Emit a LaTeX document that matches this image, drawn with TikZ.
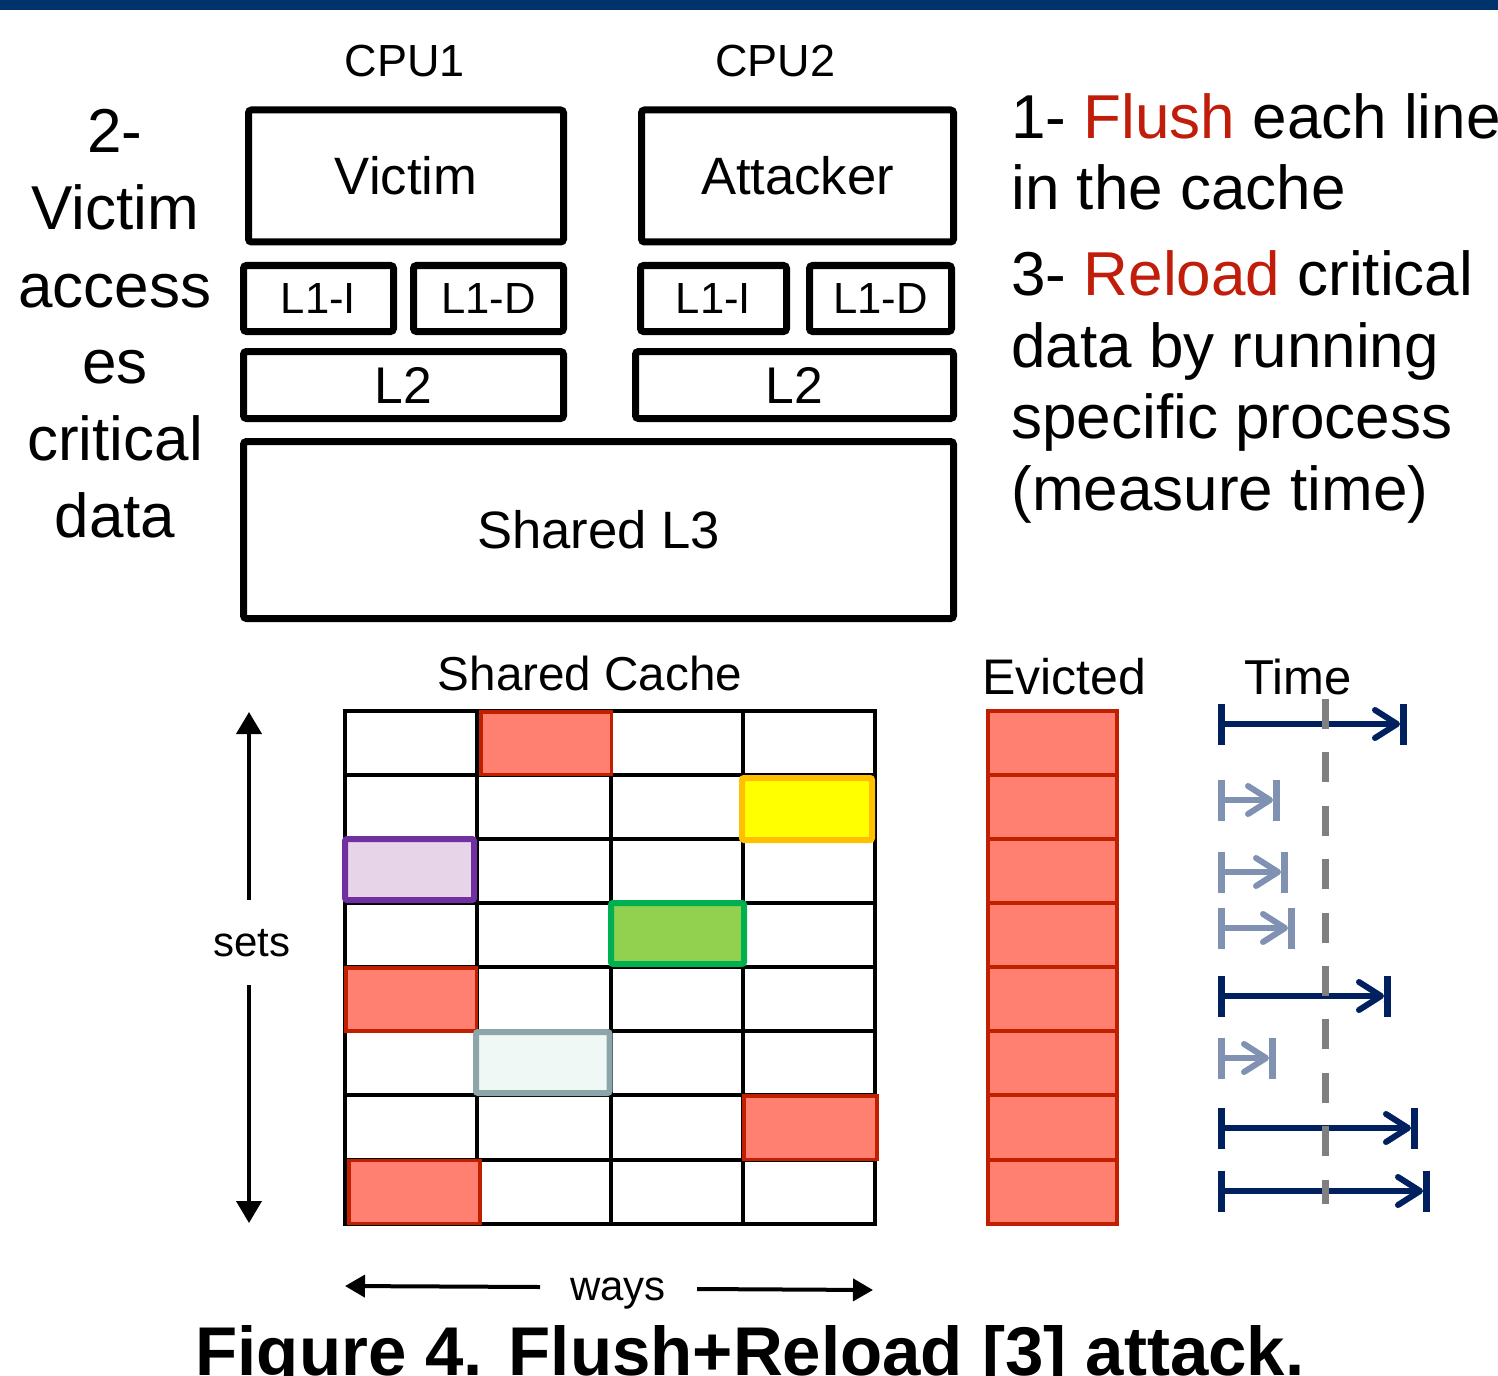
\documentclass[tikz,border=0pt]{standalone}
\usepackage{fontspec}
\setmainfont{Liberation Sans}
\usetikzlibrary{arrows.meta}
\definecolor{topbar}{RGB}{0,51,107}
\definecolor{fred}{RGB}{255,128,112}
\definecolor{bred}{RGB}{192,32,0}
\definecolor{txred}{RGB}{192,30,10}
\definecolor{yfill}{RGB}{255,255,0}
\definecolor{ybord}{RGB}{255,192,0}
\definecolor{pfill}{RGB}{232,212,232}
\definecolor{pbord}{RGB}{112,48,160}
\definecolor{gfill}{RGB}{146,208,80}
\definecolor{gbord}{RGB}{0,176,80}
\definecolor{lfill}{RGB}{240,248,246}
\definecolor{lbord}{RGB}{140,165,168}
\definecolor{navy}{RGB}{0,32,96}
\definecolor{lnavy}{RGB}{128,145,178}
\definecolor{dgray}{RGB}{128,128,128}
\begin{document}
\begin{tikzpicture}[x=0.5pt,y=-0.5pt,
  box/.style={draw, line width=3.5pt, rounded corners=1.5pt, inner sep=0pt},
  fbig/.style={font=\fontsize{31}{37}\selectfont},
  fbox/.style={font=\fontsize{26.3}{31}\selectfont},
  fl1/.style={font=\fontsize{21.8}{26}\selectfont},
  fl2/.style={font=\fontsize{25.8}{31}\selectfont},
  fhead/.style={font=\fontsize{24.5}{29}\selectfont},
  fsmall/.style={font=\fontsize{21}{25}\selectfont},
  lbl/.style={inner sep=0pt, anchor=base},
  rtxt/.style={fbig, inner sep=0pt, anchor=base west},
  gridl/.style={line width=1.7pt, black, line cap=rect},
  redcell/.style={draw=bred, fill=fred, line width=1.6pt},
  ccell/.style={line width=3pt, rounded corners=1pt},
  blk/.style={line width=2pt, -{Triangle[length=11pt,width=12.5pt]}},
  tbar/.style={line width=3.5pt}
]
\useasboundingbox (0,0) rectangle (1498,1375);
\fill[topbar] (0,0) rectangle (1498,10);

% CPU labels
\node[lbl, font=\fontsize{22.5}{27}\selectfont] (cpu1) at (405,77) {CPU1};
\node[lbl, font=\fontsize{22.5}{27}\selectfont] (cpu2) at (775.5,77) {CPU2};

% cache hierarchy boxes
\node[box, fbox, minimum width=157.5pt, minimum height=66pt] (victim) at (406,176) {Victim};
\node[box, fbox, minimum width=156pt, minimum height=66pt] (attacker) at (797.5,176) {Attacker};
\node[box, fl1, minimum width=75pt, minimum height=33pt] (l1ia) at (318.5,298.5) {L1-I};
\node[box, fl1, minimum width=75pt, minimum height=33pt] (l1da) at (488.5,298.5) {L1-D};
\node[box, fl1, minimum width=73pt, minimum height=33pt] (l1ib) at (713.5,298.5) {L1-I};
\node[box, fl1, minimum width=71pt, minimum height=33pt] (l1db) at (880.5,298.5) {L1-D};
\node[box, fl2, minimum width=160pt, minimum height=33.5pt] (l2a) at (403.5,385) {L2};
\node[box, fl2, minimum width=159pt, minimum height=33.5pt] (l2b) at (794.5,385) {L2};
\node[box, fbox, minimum width=355pt, minimum height=88.5pt] (l3) at (598.5,530) {Shared L3};

% left explanation
\node[lbl, fbig] (v1) at (115,153) {2-};
\node[lbl, fbig] (v2) at (115,230) {Victim};
\node[lbl, fbig] (v3) at (115,307) {access};
\node[lbl, fbig] (v4) at (115,383) {es};
\node[lbl, fbig] (v5) at (115,460) {critical};
\node[lbl, fbig] (v6) at (115,537) {data};

% right explanation
\node[rtxt] (r1) at (1011,139) {1- \textcolor{txred}{Flush} each line};
\node[rtxt] (r2) at (1011,210) {in the cache};
\node[rtxt] (r3) at (1011,295) {3- \textcolor{txred}{Reload} critical};
\node[rtxt] (r4) at (1011,367) {data by running};
\node[rtxt] (r5) at (1011,438) {specific process};
\node[rtxt] (r6) at (1011,510) {(measure time)};

% headings
\node[lbl, font=\fontsize{23.8}{28}\selectfont] (shc) at (590,690) {Shared Cache};
\node[lbl, font=\fontsize{25}{30}\selectfont] (evh) at (1064,694) {Evicted};
\node[lbl, fhead] (tmh) at (1298,694) {Time};

% grid
\foreach \x in {345,477,611,743,875} \draw[gridl] (\x,711) -- (\x,1224);
\foreach \y in {711,775,839,903,967,1031,1095,1160,1224} \draw[gridl] (345,\y) -- (875,\y);

% coloured lines
\draw[redcell] (481,712) rectangle (611.5,774.5);
\draw[ccell, draw=ybord, fill=yfill] (742,778) rectangle (872,840);
\draw[ccell, draw=pbord, fill=pfill] (345,839) rectangle (474,900);
\draw[ccell, draw=gbord, fill=gfill] (611,903) rectangle (744,964);
\draw[redcell] (346,968) rectangle (476.5,1031);
\draw[ccell, draw=lbord, fill=lfill] (476,1032) rectangle (609.5,1093);
\draw[redcell] (744,1096) rectangle (877,1159.5);
\draw[redcell] (349,1160.5) rectangle (480,1223.5);

% evicted column
\foreach \a/\b in {711/775,775/839,839/903,903/967,967/1031,1031/1095,1095/1160,1160/1224}
  \draw[redcell] (988,\a) rectangle (1117,\b);

% sets arrow
\node[lbl, fsmall] (sets) at (252,956) {sets};
\coordinate (sTopS) at (249,900);
\coordinate (sTopE) at (249,712);
\coordinate (sBotS) at (249,985);
\coordinate (sBotE) at (249,1223);
\draw[blk] (sTopS) -- (sTopE);
\draw[blk] (sBotS) -- (sBotE);

% ways arrow
\node[lbl, fsmall] (ways) at (618,1300) {ways};
\coordinate (wLS) at (540,1287);
\coordinate (wLE) at (345,1286);
\coordinate (wRS) at (697,1289);
\coordinate (wRE) at (873,1290);
\draw[line width=2pt, -{Triangle[length=10pt,width=11pt]}] (wLS) -- (wLE);
\draw[line width=2pt, -{Triangle[length=10pt,width=11pt]}] (wRS) -- (wRE);

% timeline
\foreach \n/\y/\xe/\c in {1/724/1403/navy, 2/800/1276/lnavy, 3/872/1284/lnavy, 4/928/1291/lnavy, 5/996/1387/navy, 6/1058/1272/lnavy, 7/1128/1414/navy, 8/1191/1426/navy} {
  \coordinate (ts\n) at (1221,\y);
  \coordinate (te\n) at (\xe,\y);
  \draw[\c, line width=3pt, -{Straight Barb[length=11pt,width=14pt,round]}] (ts\n) -- ([xshift=-1.5pt]te\n);
  \draw[\c, tbar] (ts\n) ++(0,-20.5) -- ++(0,41);
  \draw[\c, tbar] (te\n) ++(0,-20.5) -- ++(0,41);
}
\coordinate (dTop) at (1325,699);
\coordinate (dBot) at (1325,1204);
\draw[dgray, line width=3.5pt, dash pattern=on 15pt off 11.7pt] (dTop) -- (dBot);

% caption
\node[lbl, font=\fontsize{34.5}{40}\selectfont\bfseries] (cap) at (750,1375) {Figure 4. Flush+Reload [3] attack.};
\end{tikzpicture}
\end{document}
